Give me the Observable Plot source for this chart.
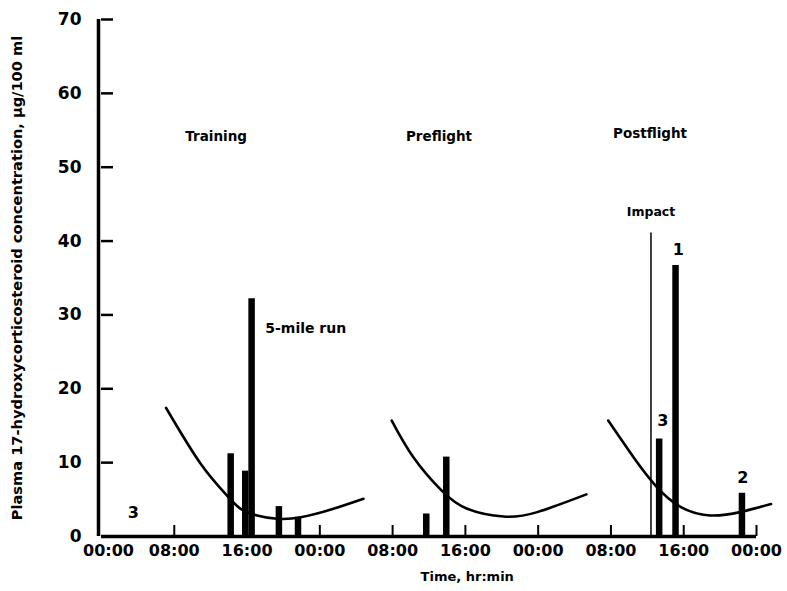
<!DOCTYPE html>
<html><head><meta charset="utf-8">
<script src="https://cdn.jsdelivr.net/npm/d3@7"></script>
<script src="https://cdn.jsdelivr.net/npm/@observablehq/plot@0.6"></script>
<style>
body{margin:0;background:#fff}
#chart svg{display:block}
</style>
</head><body><div id="chart"></div>
<script>
// Time in hours from the first 00:00 (three consecutive days), value in µg/100 ml
const xTickHours = [0, 8, 16, 24, 32, 40, 48, 56, 64, 72];
const xTickLabels = ["00:00", "08:00", "16:00", "00:00", "08:00", "16:00", "00:00", "08:00", "16:00", "00:00"];
const yTicks = [0, 10, 20, 30, 40, 50, 60, 70];

// Circadian reference curves
const trainingCurveHours = [7.1, 10.9, 13.8, 15.3, 17.1, 19.3, 21.9, 25.5, 28.8];
const trainingCurveValues = [17.4, 9.85, 5.55, 3.75, 2.85, 2.4, 2.6, 3.75, 5.1];
const preflightCurveHours = [31.9, 34.3, 37.4, 40.2, 44.2, 47.9, 53.3];
const preflightCurveValues = [15.7, 10.7, 6.2, 3.75, 2.7, 3.3, 5.7];
const postflightCurveHours = [55.7, 58.5, 60.9, 63.65, 66.9, 70.2, 73.6];
const postflightCurveValues = [15.7, 10.7, 6.9, 4.0, 2.85, 3.3, 4.4];

// Measured samples (bars)
const barHours = [14.2, 15.8, 16.5, 19.5, 21.6, 35.7, 37.9, 61.3, 63.1, 70.4];
const barValues = [11.2, 8.85, 32.2, 4.05, 2.6, 3.05, 10.75, 13.2, 36.7, 5.85];

// Impact marker
const impactHour = 60.4;
const impactTop = 41.1;

// Annotations
const panelLabels = ["Training", "Preflight", "Postflight"];
const panelHours = [12.6, 37.1, 60.3];
const panelValues = [54.2, 54.2, 54.6];
const noteLabels = ["Impact", "1", "3", "2", "3"];
const noteHours = [60.4, 63.4, 61.7, 70.5, 3.5];
const noteValues = [43.9, 38.75, 15.7, 8.0, 3.25];
const runLabel = "5-mile run";
const runHour = 18.0;
const runValue = 28.2;
const xTitle = "Time, hr:min";
const xTitleHour = 40.2;
const yTitle = "Plasma 17-hydroxycorticosteroid concentration, µg/100 ml";

const toRows = (xs, ys) => xs.map((x, i) => ({x, y: ys[i]}));
const curves = [
  toRows(trainingCurveHours, trainingCurveValues),
  toRows(preflightCurveHours, preflightCurveValues),
  toRows(postflightCurveHours, postflightCurveValues)
];
const bars = toRows(barHours, barValues);
const panels = panelLabels.map((t, i) => ({t, x: panelHours[i], y: panelValues[i]}));
const notes = noteLabels.map((t, i) => ({t, x: noteHours[i], y: noteValues[i]}));
const fmt = d => xTickLabels[xTickHours.indexOf(d)];

const font = "DejaVu Sans";
const xLabelOpts = {tickSize: 0, tickPadding: 8, tickFormat: fmt, label: null, fontSize: 16, fontWeight: "bold", fontFamily: font};
const chart = Plot.plot({
  width: 787,
  height: 591,
  marginLeft: 101,
  marginRight: 31,
  marginTop: 19,
  marginBottom: 55,
  style: {fontFamily: font, fontSize: "16px", fontWeight: "bold", color: "#000", background: "#fff"},
  x: {domain: [0, 72]},
  y: {domain: [0, 70]},
  marks: [
    // axis ticks (inward)
    Plot.axisY({ticks: yTicks, tickSize: -12, tickFormat: () => "", label: null, strokeWidth: 2.5}),
    Plot.axisX({ticks: xTickHours.slice(1), tickSize: -11, tickFormat: () => "", label: null, strokeWidth: 2}),
    // axis labels
    Plot.axisY({ticks: yTicks, tickSize: 0, tickPadding: 20, label: null, fontSize: 17, fontWeight: "bold", fontFamily: font}),
    Plot.axisX({ticks: xTickHours.slice(0, 1), dx: 7, ...xLabelOpts}),
    Plot.axisX({ticks: xTickHours.slice(1), ...xLabelOpts}),
    // axis lines
    Plot.ruleY([0], {strokeWidth: 3.5}),
    Plot.ruleX([0], {y1: 0, y2: 70, strokeWidth: 3.5, dx: -3}),
    // curves
    ...curves.map(c => Plot.line(c, {x: "x", y: "y", curve: "natural", strokeWidth: 2.6})),
    // bars
    Plot.ruleX(bars, {x: "x", y1: 0, y2: "y", strokeWidth: 6.5}),
    // impact
    Plot.ruleX([impactHour], {y1: 0, y2: impactTop, strokeWidth: 1.5}),
    // annotations
    Plot.text(panels, {x: "x", y: "y", text: "t", fontSize: 13.5, fontWeight: "bold", fontFamily: font}),
    Plot.text(notes, {x: "x", y: "y", text: "t", fontSize: d => d.t === "Impact" ? 12.5 : 16, fontWeight: "bold", fontFamily: font}),
    Plot.text([runLabel], {x: runHour, y: runValue, text: d => d, textAnchor: "start", fontSize: 14, fontWeight: "bold", fontFamily: font}),
    Plot.text([xTitle], {x: xTitleHour, frameAnchor: "bottom", dy: 44, text: d => d, fontSize: 13, fontWeight: "bold", fontFamily: font}),
    Plot.text([yTitle], {frameAnchor: "left", textAnchor: "middle", dx: -84, rotate: -90, text: d => d, fontSize: 14.6, fontWeight: "bold", fontFamily: font})
  ]
});
document.getElementById("chart").append(chart);
</script>
</body></html>
